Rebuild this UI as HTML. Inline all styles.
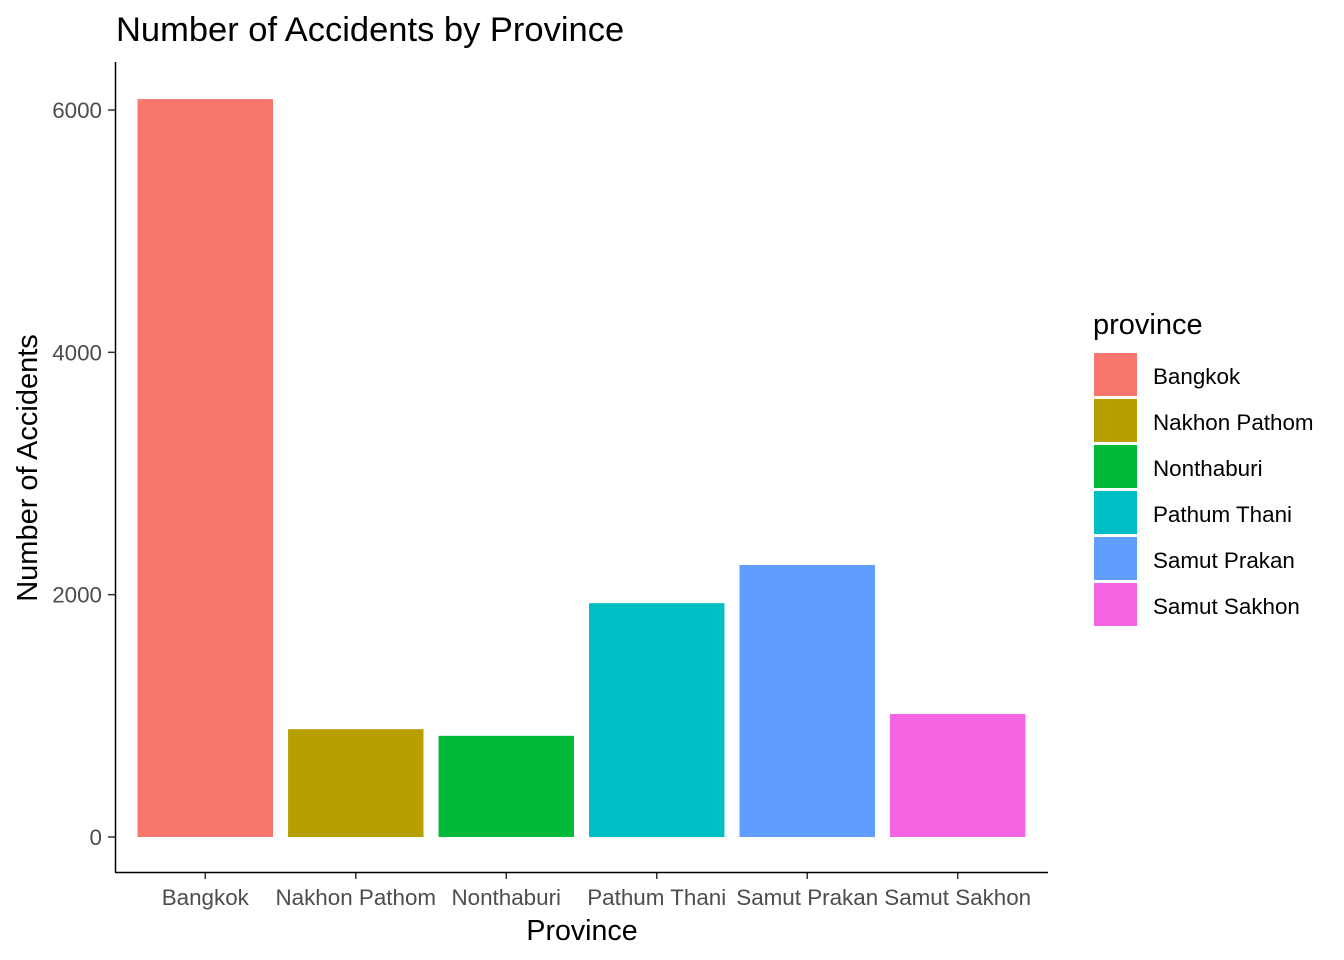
<!DOCTYPE html>
<html><head><meta charset="utf-8"><style>
body{margin:0;background:#fff;font-family:"Liberation Sans",Arial,sans-serif;}
svg{display:block}
</style></head><body>
<svg id="chart" width="1344" height="960" xmlns="http://www.w3.org/2000/svg">
<text x="116" y="41" font-size="34.5" fill="#000">Number of Accidents by Province</text>
<g id="bars"></g>
<g id="yaxis"></g>
<g id="xaxis"></g>
<line x1="115.5" y1="62" x2="115.5" y2="872.5" stroke="#000" stroke-width="1.5"/>
<line x1="115" y1="872.5" x2="1048" y2="872.5" stroke="#000" stroke-width="1.5"/>
<text x="582" y="940" font-size="28.6" text-anchor="middle">Province</text>
<text transform="translate(37,468) rotate(-90)" font-size="29" text-anchor="middle">Number of Accidents</text>
<text x="1093" y="334" font-size="29">province</text>
<g id="legend"></g>
</svg>
<script>
const categories=["Bangkok","Nakhon Pathom","Nonthaburi","Pathum Thani","Samut Prakan","Samut Sakhon"];
const values=[6090,890,835,1930,2245,1015];
const colors=["#F8766D","#B79F00","#00BA38","#00BFC4","#619CFF","#F564E3"];
const yTicks=[0,2000,4000,6000];
const NS="http://www.w3.org/2000/svg";
const y0=837,y6000=110;
function yScale(v){return y0-(v/6000)*(y0-y6000);}
const left=115,right=1048,unit=(right-left)/(categories.length-1+1.2);
function xScale(i){return left+(0.6+i)*unit;}
const bw=unit*0.9;
function mk(tag,attrs,parent){const e=document.createElementNS(NS,tag);for(const k in attrs)e.setAttribute(k,attrs[k]);parent.appendChild(e);return e;}
const bars=document.getElementById('bars'),ya=document.getElementById('yaxis'),xa=document.getElementById('xaxis'),lg=document.getElementById('legend');
categories.forEach((c,i)=>{
 const r=mk('rect',{x:xScale(i)-bw/2,y:yScale(values[i]),width:bw,height:yScale(0)-yScale(values[i]),fill:colors[i]},bars);
 
 
 const t=mk('line',{x1:xScale(i),x2:xScale(i),y1:872,y2:879,stroke:'#333','stroke-width':1.5},xa);
 
 
 const l=mk('text',{x:xScale(i),y:905,'font-size':22.4,'text-anchor':'middle',fill:'#4d4d4d'},xa);
 l.textContent=c;
 
 
 const k=mk('rect',{x:1094,y:353+i*46,width:43,height:43,fill:colors[i]},lg);
 
 
 const lt=mk('text',{x:1153,y:384+i*46,'font-size':22.4,fill:'#000'},lg);
 lt.textContent=c;
 
 
});
yTicks.forEach(v=>{
 const t=mk('line',{x1:108,x2:115,y1:yScale(v),y2:yScale(v),stroke:'#333','stroke-width':1.5},ya);
 
 
 const l=mk('text',{x:102,y:yScale(v)+8,'font-size':22.4,'text-anchor':'end',fill:'#4d4d4d'},ya);
 l.textContent=v;
 
 
});
</script>
</body></html>
